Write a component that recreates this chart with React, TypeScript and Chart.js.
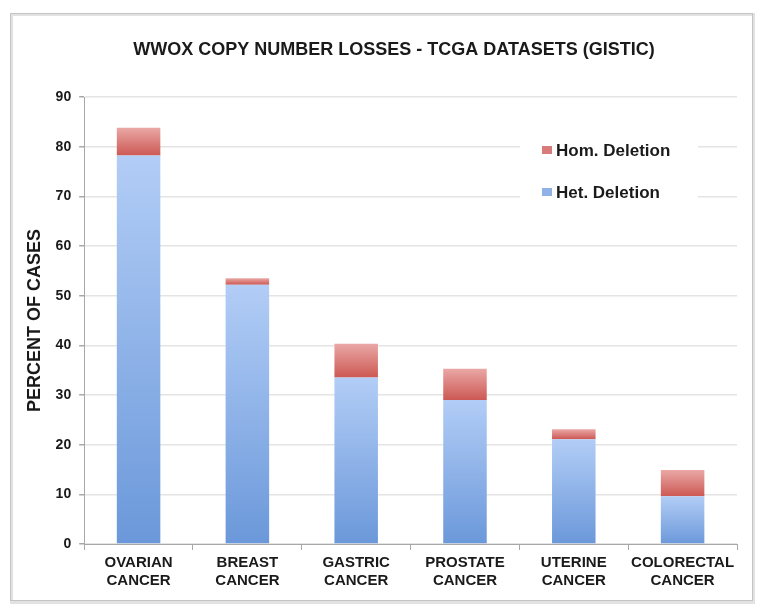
import React, { useEffect, useRef } from "react";
import { Chart, registerables } from "chart.js";

Chart.register(...registerables);

const chartTitle = "WWOX COPY NUMBER LOSSES - TCGA DATASETS (GISTIC)";
const categories: string[][] = [
  ["OVARIAN", "CANCER"],
  ["BREAST", "CANCER"],
  ["GASTRIC", "CANCER"],
  ["PROSTATE", "CANCER"],
  ["UTERINE", "CANCER"],
  ["COLORECTAL", "CANCER"],
];
const hetDeletion: number[] = [78.2, 52.2, 33.5, 29.0, 21.1, 9.6];
const homDeletion: number[] = [5.6, 1.3, 6.8, 6.3, 2.0, 5.3];
const yTicks: number[] = [0, 10, 20, 30, 40, 50, 60, 70, 80, 90];

const FONT = "'Liberation Sans', Arial, sans-serif";

function barGradient(ctx: any, lo: number[], hi: number[], top: string, bottom: string, fallback: string) {
  const chart = ctx.chart;
  if (ctx.type !== "data" || !chart.chartArea || !chart.scales.y) return fallback;
  const i = ctx.dataIndex;
  const y = chart.scales.y;
  const yBase = y.getPixelForValue(lo[i]);
  const yTop = y.getPixelForValue(hi[i]);
  if (!isFinite(yBase) || !isFinite(yTop) || yBase === yTop) return fallback;
  const g = chart.ctx.createLinearGradient(0, yTop, 0, yBase);
  g.addColorStop(0, top);
  g.addColorStop(1, bottom);
  return g;
}

const frameAndLegend = {
  id: "frameAndLegend",
  beforeDraw(chart: any) {
    const c = chart.ctx;
    c.save();
    c.fillStyle = "#ffffff";
    c.fillRect(0, 0, chart.width, chart.height);
    c.strokeStyle = "#e2e2e2";
    c.lineWidth = 3;
    c.strokeRect(11.5, 14.5, 742, 588);
    c.strokeStyle = "#c4c4c4";
    c.lineWidth = 1;
    c.strokeRect(10.5, 13.5, 742, 587);
    c.restore();
  },
  afterDraw(chart: any) {
    const c = chart.ctx;
    c.save();
    // title
    c.font = "bold 18px " + FONT;
    c.fillStyle = "#1a1a1a";
    c.textAlign = "center";
    c.textBaseline = "middle";
    c.fillText(chartTitle, 394, 50);
    // legend
    c.fillStyle = "#ffffff";
    c.fillRect(520, 128, 178, 80);
    const items = chart.data.datasets.map((d: any) => ({ label: d.label, color: d.legendColor })).reverse();
    c.font = "bold 17px " + FONT;
    c.textBaseline = "middle";
    c.textAlign = "left";
    items.forEach((it: any, k: number) => {
      const cy = 150 + k * 42;
      c.fillStyle = it.color;
      c.fillRect(542, cy - 4, 10, 8);
      c.fillStyle = "#1a1a1a";
      c.fillText(it.label, 556, cy + 1);
    });
    c.restore();
  },
};

export default function App() {
  const ref = useRef<HTMLCanvasElement | null>(null);

  useEffect(() => {
    document.body.style.margin = "0";
    const canvas = ref.current;
    if (!canvas) return;
    const cumulative = hetDeletion.map((v, i) => v + homDeletion[i]);
    const zeros = hetDeletion.map(() => 0);
    const chart = new Chart(canvas, {
      type: "bar",
      data: {
        labels: categories,
        datasets: [
          {
            label: "Het. Deletion",
            data: hetDeletion,
            legendColor: "#8fb1e6",
            backgroundColor: (ctx: any) => barGradient(ctx, zeros, hetDeletion, "#b2cdf6", "#6b98da", "#8fb1e6"),
            borderWidth: 0,
            barPercentage: 0.4,
            categoryPercentage: 1,
          } as any,
          {
            label: "Hom. Deletion",
            data: homDeletion,
            legendColor: "#d77c7a",
            backgroundColor: (ctx: any) => barGradient(ctx, hetDeletion, cumulative, "#eaa8a6", "#cc5853", "#d77c7a"),
            borderWidth: 0,
            barPercentage: 0.4,
            categoryPercentage: 1,
          } as any,
        ],
      },
      options: {
        animation: false,
        responsive: false,
        maintainAspectRatio: false,
        layout: { padding: { top: 97, left: 12, right: 25, bottom: 18 } },
        plugins: {
          legend: { display: false },
          tooltip: { enabled: false },
          title: { display: false },
        },
        scales: {
          x: {
            stacked: true,
            grid: {
              offset: true,
              drawOnChartArea: false,
              tickLength: 6,
              color: "#a8a8a8",
              tickColor: "#a8a8a8",
            },
            border: { color: "#a8a8a8", width: 1 },
            ticks: {
              color: "#1a1a1a",
              padding: 4,
              maxRotation: 0,
              autoSkip: false,
              font: { family: FONT, size: 15, weight: "bold", lineHeight: 1.2 },
            },
          },
          y: {
            stacked: true,
            min: 0,
            max: 90,
            afterBuildTicks: (axis: any) => {
              axis.ticks = yTicks.map((v) => ({ value: v }));
            },
            grid: {
              color: "#e4e4e4",
              lineWidth: 1.5,
              tickLength: 5,
              tickColor: "#a8a8a8",
            },
            border: { color: "#a8a8a8", width: 1 },
            ticks: {
              color: "#1a1a1a",
              padding: 8,
              font: { family: FONT, size: 14, weight: "bold" },
            },
            title: {
              display: true,
              text: "PERCENT OF CASES",
              color: "#1a1a1a",
              font: { family: FONT, size: 18, weight: "bold", lineHeight: 1.2 },
              padding: { top: 12, bottom: 2 },
            },
          },
        },
      },
      plugins: [frameAndLegend],
    } as any);
    return () => chart.destroy();
  }, []);

  return (
    <div style={{ width: 762, height: 612 }}>
      <canvas ref={ref} width={762} height={612} style={{ display: "block", width: 762, height: 612 }} />
    </div>
  );
}
